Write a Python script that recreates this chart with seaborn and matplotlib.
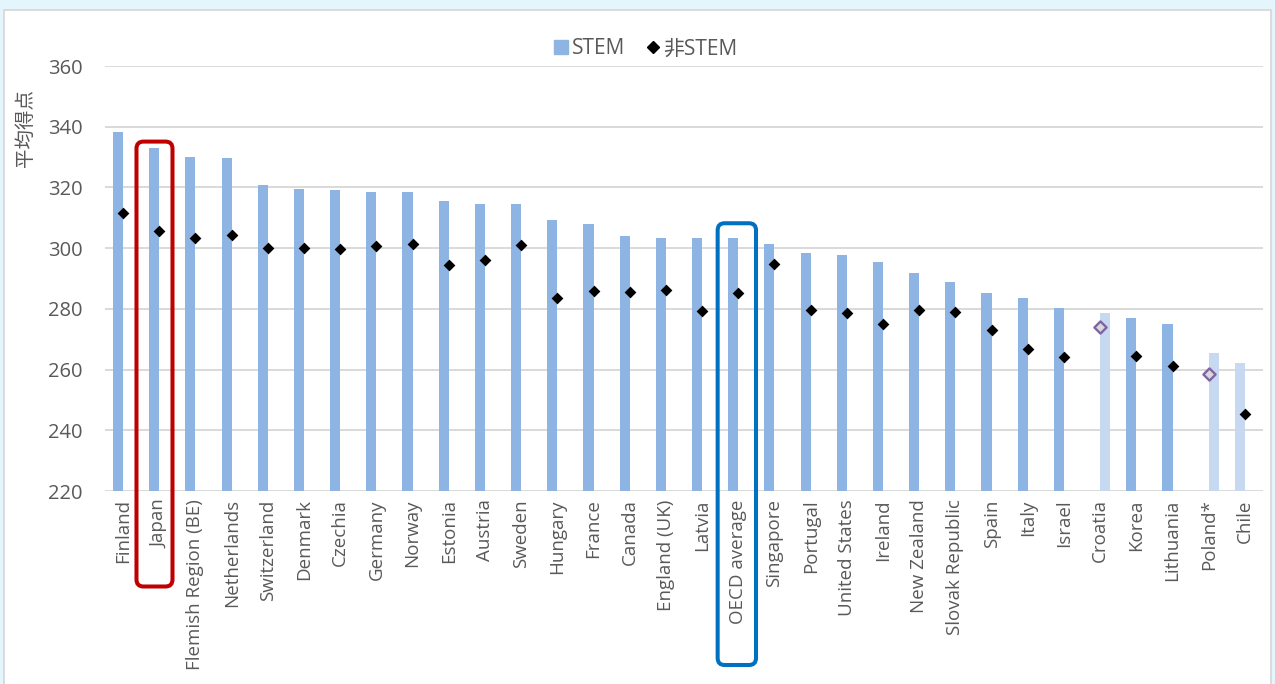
import matplotlib
matplotlib.use("Agg")
import matplotlib.pyplot as plt
import seaborn as sns
import pandas as pd
from matplotlib.patches import Rectangle, FancyBboxPatch
from matplotlib.lines import Line2D
from matplotlib.transforms import IdentityTransform

countries = ["Finland", "Japan", "Flemish Region (BE)", "Netherlands", "Switzerland",
             "Denmark", "Czechia", "Germany", "Norway", "Estonia", "Austria", "Sweden",
             "Hungary", "France", "Canada", "England (UK)", "Latvia", "OECD average",
             "Singapore", "Portugal", "United States", "Ireland", "New Zealand",
             "Slovak Republic", "Spain", "Italy", "Israel", "Croatia", "Korea",
             "Lithuania", "Poland*", "Chile"]
stem = [338.2, 333.1, 329.9, 329.8, 320.9, 319.6, 319.1, 318.5, 318.4, 315.4, 314.7,
        314.7, 309.3, 307.9, 303.9, 303.5, 303.5, 303.5, 301.5, 298.3, 297.7, 295.5,
        291.9, 288.8, 285.2, 283.5, 280.3, 278.6, 277.0, 275.0, 265.4, 262.1]
nonstem = [311.7, 305.6, 303.2, 304.2, 300.0, 300.0, 299.8, 300.7, 301.3, 294.5, 296.2,
           300.9, 283.6, 285.8, 285.5, 286.2, 279.3, 285.1, 294.7, 279.6, 278.8, 275.0,
           279.6, 279.0, 272.9, 266.8, 264.2, 274.1, 264.5, 261.1, 258.7, 245.3]
bar_series = ["main"] * 27 + ["alt", "main", "main", "alt", "main"]
bar_shade = ["dark"] * 27 + ["light", "dark", "dark", "light", "light"]
marker_style = ["filled"] * 27 + ["hollow", "filled", "filled", "hollow", "filled"]
yticks = [220, 240, 260, 280, 300, 320, 340, 360]

DARK = "#8EB4E3"
LIGHT = "#C6D9F1"
TXT = "#595959"
GRID = "#D9D9D9"

sns.set_style("white")
plt.rcParams["font.family"] = ["Open Sans", "Noto Sans CJK JP", "DejaVu Sans"]

df = pd.DataFrame({"country": countries, "stem": stem, "nonstem": nonstem,
                   "series": bar_series, "shade": bar_shade, "mstyle": marker_style})

W, H = 1275, 684
fig = plt.figure(figsize=(W / 100, H / 100), dpi=100, facecolor="#E4F5FC")
fig.add_artist(Rectangle((4 / W, -0.02), (1271 - 4) / W, 1.02 - 10 / H,
                         transform=fig.transFigure, facecolor="white",
                         edgecolor="#D6D6D6", linewidth=1.2, zorder=-5))

ax = fig.add_axes([105 / W, 1 - 491 / H, 1158 / W, 425 / H])
ax.set_facecolor("none")

sns.barplot(data=df, x="country", y="stem", hue="series", hue_order=["main", "alt"],
            order=countries, palette={"main": DARK, "alt": LIGHT}, dodge=True,
            width=0.56, saturation=1, linewidth=0, legend=False, errorbar=None, ax=ax)

# recolour light bars that sit in the main series
for i, c in enumerate(countries):
    if bar_shade[i] == "light" and bar_series[i] == "main":
        for p in ax.patches:
            cx = p.get_x() + p.get_width() / 2
            if abs(cx - (i - 0.14)) < 0.05:
                p.set_facecolor(LIGHT)

filled = df[df["mstyle"] == "filled"]
hollow = df[df["mstyle"] == "hollow"]
sns.stripplot(data=filled, x="country", y="nonstem", order=countries, jitter=False,
              marker="D", color="black", size=6.0, linewidth=0, ax=ax, zorder=5)
sns.stripplot(data=hollow, x="country", y="nonstem", order=countries, jitter=False,
              marker="D", color="#D9D9D9", edgecolor="#8064A2", linewidth=1.7,
              size=6.2, ax=ax, zorder=5)

ax.set_xlim(-0.5, len(countries) - 0.5)
ax.set_ylim(220, 360)
ax.set_yticks(yticks)
ax.set_yticklabels([str(t) for t in yticks])
ax.grid(axis="y", color=GRID, linewidth=1.4)
ax.grid(axis="x", visible=False)
ax.set_axisbelow(True)
for s in ax.spines.values():
    s.set_visible(False)
ax.tick_params(axis="y", length=0, pad=16, labelsize=14.5, labelcolor=TXT)
ax.tick_params(axis="x", length=0, pad=6, labelsize=13.5, labelcolor=TXT,
               labelrotation=90)
ax.set_xlabel("")
ax.set_ylabel("平均得点", fontsize=14, color=TXT)
ax.yaxis.set_label_coords(-0.0605, 0.854)

# legend
handles = [Line2D([], [], marker="s", linestyle="none", color=DARK, markersize=9.8),
           Line2D([], [], marker="D", linestyle="none", color="black", markersize=6.6)]
fig.legend(handles, ["STEM", "非STEM"], loc="center", bbox_to_anchor=(646 / W, 1 - 49 / H),
           ncol=2, frameon=False, handlelength=0.7, handletextpad=0.15,
           columnspacing=1.0, fontsize=15, labelcolor=TXT)

# highlight boxes
def add_box(x0, x1, ytop, ybot_px, color):
    px0, pyt = ax.transData.transform((x0, ytop))
    px1, _ = ax.transData.transform((x1, ytop))
    pyb = H - ybot_px
    fig.add_artist(FancyBboxPatch((px0, pyb), px1 - px0, pyt - pyb,
                                  boxstyle="round,pad=0,rounding_size=7",
                                  transform=IdentityTransform(), facecolor="none",
                                  edgecolor=color, linewidth=2.9, zorder=10,
                                  clip_on=False))

add_box(0.37, 1.365, 335.1, 586.5, "#C00000")
add_box(16.43, 17.49, 308.2, 665, "#0070C0")

fig.savefig("out.png", dpi=100, facecolor=fig.get_facecolor())
